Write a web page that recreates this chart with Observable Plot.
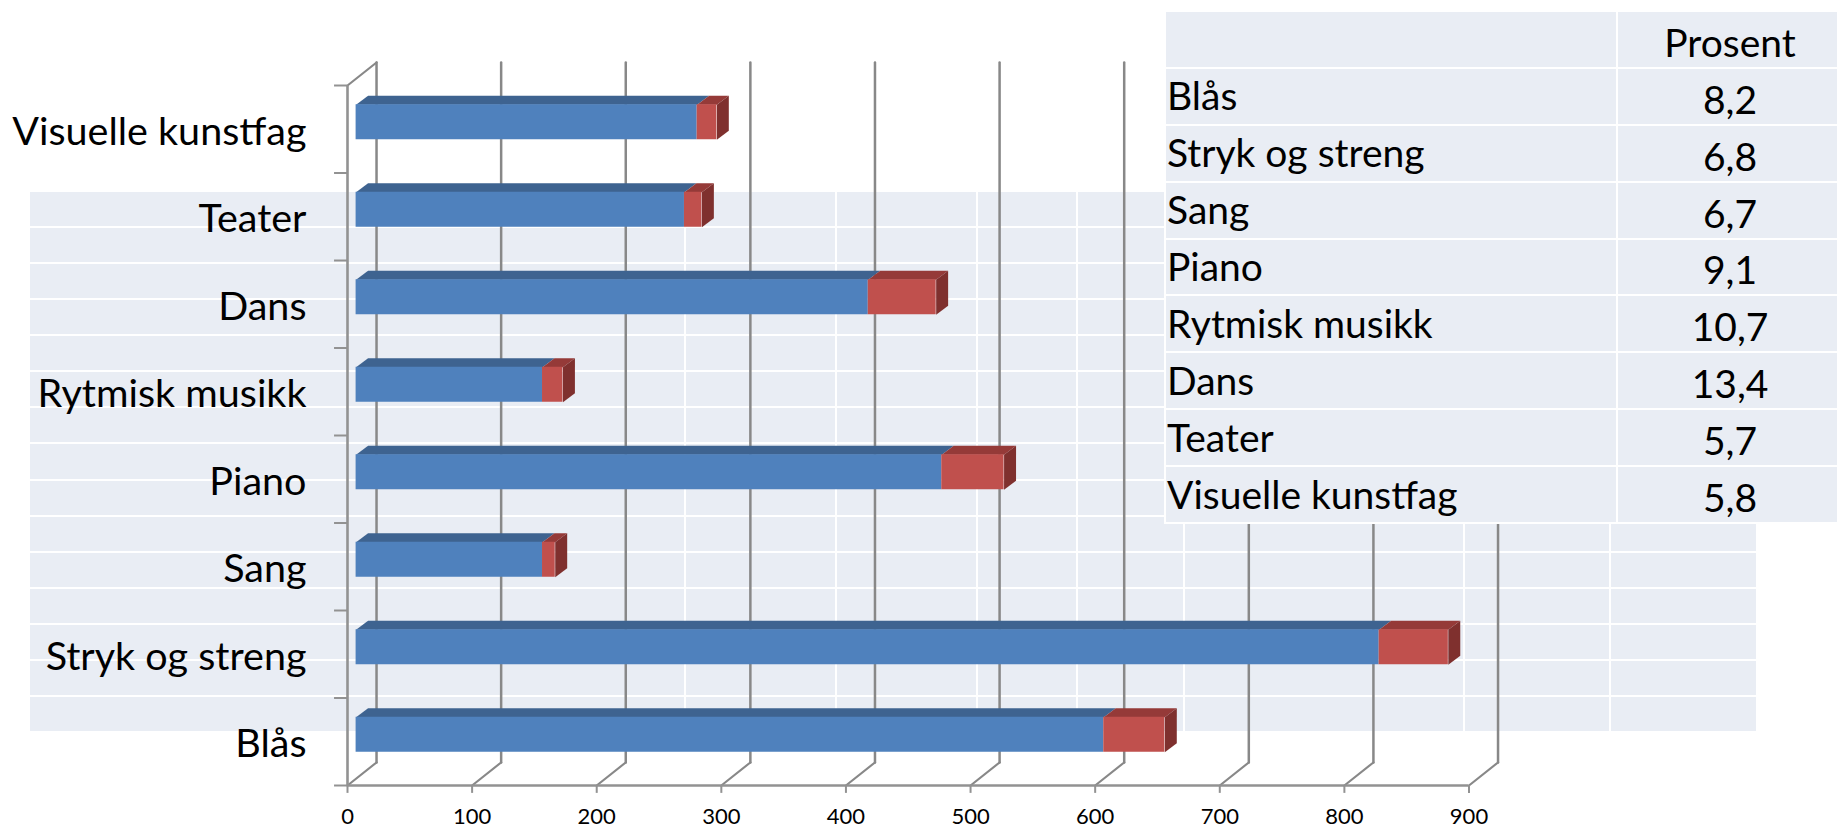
<!DOCTYPE html>
<html>
<head>
<meta charset="utf-8">
<script src="https://cdn.jsdelivr.net/npm/d3@7"></script>
<script src="https://cdn.jsdelivr.net/npm/@observablehq/plot@0.6"></script>
<style>
html,body{margin:0;padding:0;background:#fff;width:1837px;height:829px;overflow:hidden;font-family:Lato,sans-serif;}
#stage{position:relative;width:1837px;height:829px;overflow:hidden;}
#stage svg{position:absolute;left:0;top:0;background:transparent;}
table{border-collapse:collapse;table-layout:fixed;position:absolute;}
td{padding:0;border:2.5px solid #fff;background:#E9EDF4;}
#back{left:28px;top:190px;width:1728px;height:543px;}
#front{left:1164px;top:10px;width:678px;height:514px;font-size:39px;color:#000;}
#front td{overflow:hidden;white-space:nowrap;line-height:1;}
#front td.n{padding-left:1px;padding-bottom:1px;}
#front td.v{text-align:center;padding-top:6px;}
</style>
</head>
<body>
<div id="stage"></div>
<script>
const categories = ["Blås","Stryk og streng","Sang","Piano","Rytmisk musikk","Dans","Teater","Visuelle kunstfag"];
const blueEnd = [600,821,149.6,470,149.6,411,263.5,273.7];
const redEnd  = [649,876.5,159.8,520,166,465.5,277.5,289.5];
const percent = ["8,2","6,8","6,7","9,1","10,7","13,4","5,7","5,8"];
const tableHeader = "Prosent";
const xTicks = [0,100,200,300,400,500,600,700,800,900];

const backColumns = [656,151,141,100,107,280,146,147];
const backRowCount = 15;

// depth of the 3D walls and bars, in data units
const wallDx = 23.3, wallDy = 0.263;
const barDx = 9.6, barDy = 0.103;
const barStart = 6.9, barLow = 0.38, barHigh = 0.78;

const gray = "#888888";
const axisGray = "#929292";

const rows = categories.map((c,i)=>({c,i,start:barStart,blue:barStart+blueEnd[i],red:barStart+redEnd[i]}));

function poly(fn){ return rows.flatMap(r=>fn(r).map(([x,y])=>({x,y,z:r.c}))); }

const topBlue = poly(r=>[[r.start,r.i+barHigh],[r.blue,r.i+barHigh],[r.blue+barDx,r.i+barHigh+barDy],[r.start+barDx,r.i+barHigh+barDy]]);
const topRed  = poly(r=>[[r.blue,r.i+barHigh],[r.red,r.i+barHigh],[r.red+barDx,r.i+barHigh+barDy],[r.blue+barDx,r.i+barHigh+barDy]]);
const sideRed = poly(r=>[[r.red,r.i+barLow],[r.red,r.i+barHigh],[r.red+barDx,r.i+barHigh+barDy],[r.red+barDx,r.i+barLow+barDy]]);

const floorLines = xTicks.flatMap(v=>[{x:v,y:0,z:v},{x:v+wallDx,y:wallDy,z:v}]);
const backLines = xTicks.flatMap(v=>[{x:v+wallDx,y:wallDy,z:v},{x:v+wallDx,y:8+wallDy,z:v}]);
const topCorner = [{x:0,y:8},{x:wallDx,y:8+wallDy}];
const yTicks = d3.range(0,9);
const tickLenX = 10.4, tickLenY = 0.09;

const plot = Plot.plot({
  width:1837,height:829,
  marginTop:0,marginRight:0,marginBottom:0,marginLeft:0,
  x:{domain:[0,900],range:[347,1468.5],axis:null},
  y:{domain:[0,8],range:[785,85],axis:null},
  style:{background:"transparent",fontFamily:"Lato, sans-serif",overflow:"visible"},
  marks:[
    // back wall and floor
    Plot.line(backLines,{x:"x",y:"y",z:"z",stroke:gray,strokeWidth:2.5}),
    Plot.line(floorLines,{x:"x",y:"y",z:"z",stroke:gray,strokeWidth:2.2}),
    Plot.line(topCorner,{x:"x",y:"y",stroke:gray,strokeWidth:2.2}),
    // axes
    Plot.ruleX([0],{y1:0,y2:8,stroke:axisGray,strokeWidth:2.6}),
    Plot.ruleY([0],{x1:0,x2:900,stroke:axisGray,strokeWidth:2.6}),
    Plot.ruleX(xTicks,{x:d=>d,y1:-tickLenY,y2:0,stroke:axisGray,strokeWidth:2}),
    Plot.ruleY(yTicks,{y:d=>d,x1:-tickLenX,x2:0,stroke:axisGray,strokeWidth:2}),
    // bars
    Plot.line(topBlue,{x:"x",y:"y",z:"z",fill:"#3E6390",stroke:null}),
    Plot.line(topRed,{x:"x",y:"y",z:"z",fill:"#953A38",stroke:null}),
    Plot.line(sideRed,{x:"x",y:"y",z:"z",fill:"#7F302E",stroke:null}),
    Plot.rect(rows,{x1:"start",x2:"blue",y1:r=>r.i+barLow,y2:r=>r.i+barHigh,fill:"#4F81BD"}),
    Plot.rect(rows,{x1:"blue",x2:"red",y1:r=>r.i+barLow,y2:r=>r.i+barHigh,fill:"#C0504D"}),
    // labels
    Plot.text(rows,{x:()=>0,y:r=>r.i+0.5,text:"c",textAnchor:"end",dx:-41,dy:3,fontSize:39.5,fill:"#000"}),
    Plot.text(xTicks,{x:d=>d,y:()=>0,text:d=>String(d),dy:31,fontSize:22,fill:"#000"})
  ]
});

const stage = document.getElementById("stage");

// pale grid behind the chart
const back = document.createElement("table");
back.id = "back";
back.innerHTML = "<colgroup>"+backColumns.map(w=>`<col style="width:${w}px">`).join("")+"</colgroup>"+
  d3.range(backRowCount).map(()=>"<tr>"+backColumns.map(()=>"<td></td>").join("")+"</tr>").join("");
stage.appendChild(back);
stage.appendChild(plot);

// table in front of the chart
const front = document.createElement("table");
front.id = "front";
front.innerHTML = `<colgroup><col style="width:452px"><col style="width:226px"></colgroup>`+
  `<tr><td></td><td class="v">${tableHeader}</td></tr>`+
  categories.map((c,i)=>`<tr><td class="n">${c}</td><td class="v">${percent[i]}</td></tr>`).join("");
stage.appendChild(front);
</script>
</body>
</html>
